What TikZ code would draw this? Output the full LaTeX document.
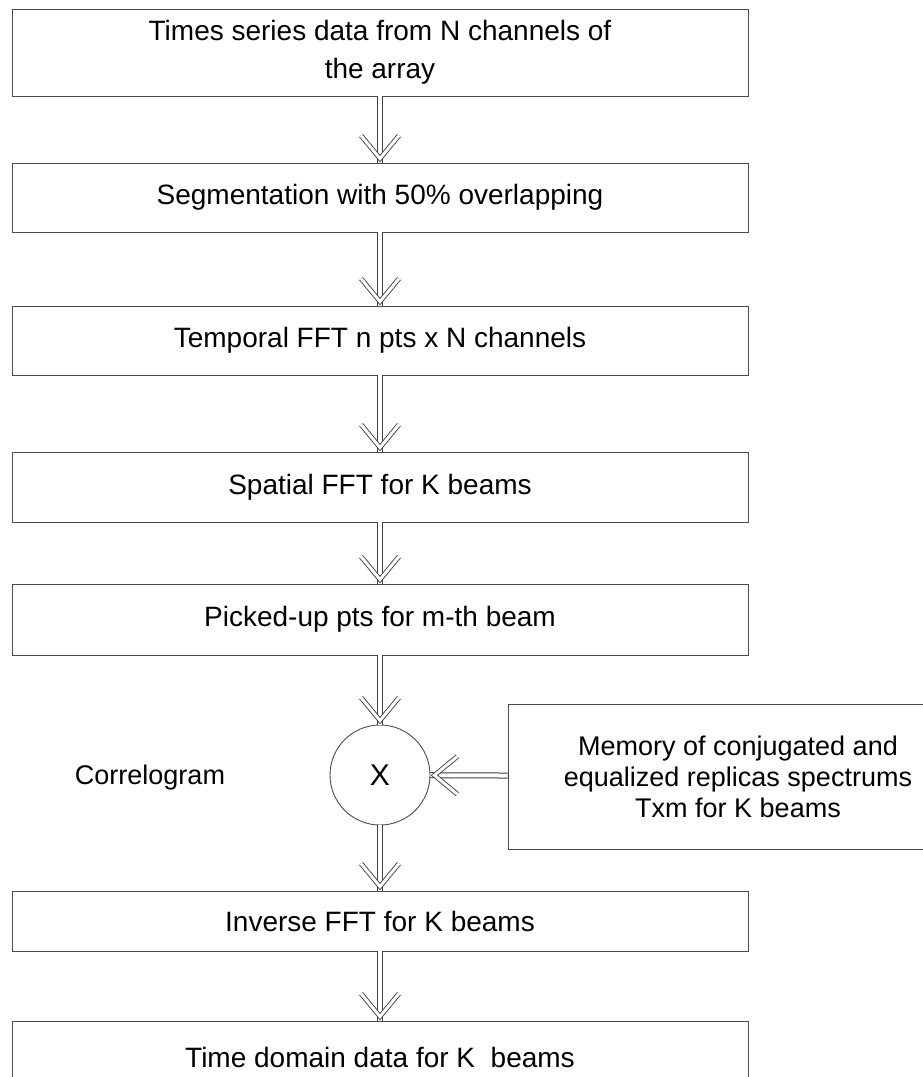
\documentclass[tikz,border=0pt]{standalone}
\usepackage{fontspec}
\setmainfont{Liberation Sans}
\usetikzlibrary{decorations.markings}

\begin{document}
\begin{tikzpicture}[x=1pt, y=-1pt,
  stage/.style={rectangle, draw=black!70, line width=0.9pt, minimum width=736pt, inner sep=0pt, align=center, font=\fontsize{28}{38}\selectfont},
  mult/.style={circle, draw=black!70, line width=0.9pt, minimum size=100pt, inner sep=0pt, font=\fontsize{30}{34}\selectfont},
  flow/.style={draw=black!75, line width=1pt, double, double distance=4pt,
    decoration={markings, mark=at position 1 with {\draw[black!75, line width=0.9pt, double, double distance=3pt, line join=miter] (-27pt,19pt) -- (-4pt,0pt) -- (-27pt,-19pt);}},
    postaction=decorate}
]
\useasboundingbox (0,0) rectangle (923,1077);
\clip (0,0) rectangle (923,1077);
% \draw[help lines, step=50pt] (0,0) grid (923,1077);
%%%%%%%%%%%%%%%%%%%%%%%%%%%%%%% processing chain
\node[stage, minimum height=87pt](sData) at (380,52.5){Times series data from N channels of\\the array};
\node[stage, minimum height=69pt](sSeg) at (380,197.5){Segmentation with 50\% overlapping};
\node[stage, minimum height=69pt](sTfft) at (380,340.5){Temporal FFT n pts x N channels};
\node[stage, minimum height=70pt](sSfft) at (380,487){Spatial FFT for K beams};
\node[stage, minimum height=71pt](sPick) at (380,619.5){Picked-up pts for m-th beam};
\draw[flow] (sData) -- (sSeg);
\draw[flow] (sSeg) -- (sTfft);
\draw[flow] (sTfft) -- (sSfft);
\draw[flow] (sSfft) -- (sPick);

%%%%%%%%%%%%%%%%%%%%%%%%%%%%%%% correlogram
\node[mult](mX) at (380,775){X};
\node[rectangle, draw=none, font=\fontsize{27}{33}\selectfont](tCorr) at (150,778){Correlogram};
\node[rectangle, draw=black!70, line width=0.9pt, minimum width=474pt, minimum height=145pt, inner sep=0pt](sMem) at (745,776.5){};
\node[rectangle, draw=none, align=center, font=\fontsize{27}{31}\selectfont](tMem) at (738,776.5){Memory of conjugated and\\equalized replicas spectrums\\Txm for K beams};
\draw[flow] (sPick) -- (mX);
\draw[flow] (sMem) -- (mX);

%%%%%%%%%%%%%%%%%%%%%%%%%%%%%%% back to time domain
\node[stage, minimum height=60pt](sIfft) at (380,921){Inverse FFT for K beams};
\node[stage, minimum height=72pt](sTime) at (380,1057){Time domain data for K\ \ beams};
\draw[flow] (mX) -- (sIfft);
\draw[flow] (sIfft) -- (sTime);

\end{tikzpicture}
\end{document}
